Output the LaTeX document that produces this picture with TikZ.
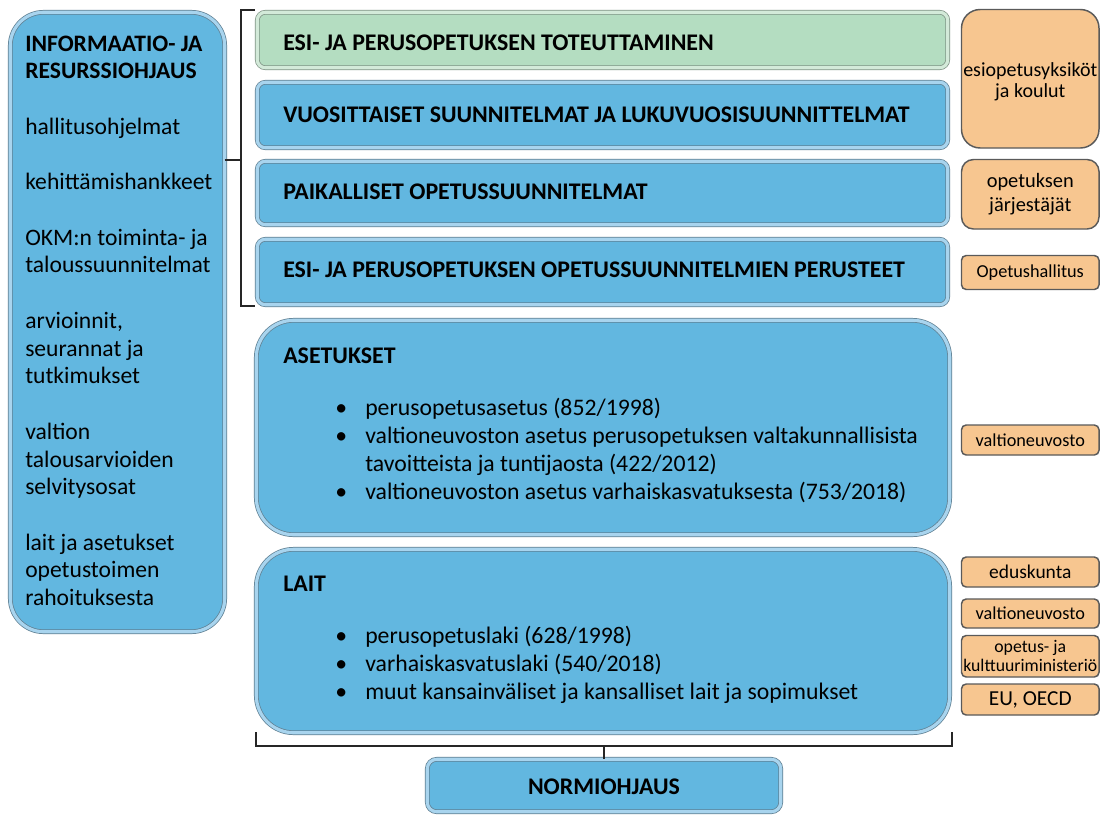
\documentclass[tikz,border=0pt]{standalone}
\usepackage{fontspec}
\setmainfont{Carlito}
\usetikzlibrary{fit}
\definecolor{fillblue}{HTML}{62B7E0}
\definecolor{bandblue}{HTML}{A8D4EE}
\definecolor{lineblue}{HTML}{5E7F92}
\definecolor{fillgreen}{HTML}{B4DDC1}
\definecolor{bandgreen}{HTML}{D3EAD9}
\definecolor{linegreen}{HTML}{7E9384}
\definecolor{fillorange}{HTML}{F7C690}
\definecolor{lineorange}{HTML}{5A5A5A}
\newcommand{\bul}{\makebox[36pt][c]{\textbullet}}
\begin{document}
\begin{tikzpicture}[x=0.75pt,y=-0.75pt,
  box/.style={inner sep=0pt, outer sep=0pt, line width=0.55pt, double distance=2.4pt},
  bluebox/.style={box, draw=lineblue, double=bandblue, fill=fillblue},
  greenbox/.style={box, draw=linegreen, double=bandgreen, fill=fillgreen},
  orgbox/.style={inner sep=0pt, outer sep=0pt, draw=lineorange, line width=1.1pt, fill=fillorange},
  smallorg/.style={orgbox, rounded corners=3.5pt},
  orgtext/.style={anchor=center, inner sep=0pt, align=center},
  head/.style={anchor=base west, inner sep=0pt, font=\bfseries\fontsize{17.9}{21}\selectfont},
  body/.style={anchor=base west, inner sep=0pt, font=\fontsize{17.7}{20.8}\selectfont},
  listtxt/.style={anchor=base west, inner sep=0pt, font=\fontsize{17.8}{21}\selectfont},
  bracket/.style={draw=black!85, line width=1pt},
]
\useasboundingbox (0,0) rectangle (1102,814);
\fill[white] (0,0) rectangle (1102,814);

% left box
\node[bluebox, rounded corners=25pt, fit={(10.3,12.3) (224.7,631.7)}] (info) {};
\node[body] (infotext) at (25,51) {\begin{tabular}[t]{@{}l@{}}\textbf{INFORMAATIO- JA}\\ \textbf{RESURSSIOHJAUS}\\[20.8pt] hallitusohjelmat\\[20.8pt] kehittämishankkeet\\[20.8pt] OKM:n toiminta- ja\\ taloussuunnitelmat\\[20.8pt] arvioinnit,\\ seurannat ja\\ tutkimukset\\[20.8pt] valtion\\ talousarvioiden\\ selvitysosat\\[20.8pt] lait ja asetukset\\ opetustoimen\\ rahoituksesta\end{tabular}};

% top boxes
\node[greenbox, rounded corners=6pt, fit={(257.3,12.3) (947.7,67.7)}] (impl) {};
\node[head] (impltext) at (283,50) {ESI- JA PERUSOPETUKSEN TOTEUTTAMINEN};
\node[bluebox, rounded corners=6pt, fit={(257.3,82.3) (947.7,147.7)}] (annual) {};
\node[head] (annualtext) at (283,122) {VUOSITTAISET SUUNNITELMAT JA LUKUVUOSISUUNNITTELMAT};
\node[bluebox, rounded corners=6pt, fit={(257.3,161.3) (947.7,224.7)}] (local) {};
\node[head] (localtext) at (283,199.5) {PAIKALLISET OPETUSSUUNNITELMAT};
\node[bluebox, rounded corners=6pt, fit={(257.3,239.3) (947.7,304.7)}] (core) {};
\node[head] (coretext) at (283,277.5) {ESI- JA PERUSOPETUKSEN OPETUSSUUNNITELMIEN PERUSTEET};

% asetukset
\node[bluebox, rounded corners=28pt, fit={(256.3,320.3) (949.7,534.7)}] (aset) {};
\node[head] (asettitle) at (283,363) {ASETUKSET};
\node[listtxt] (asetlist) at (317,415) {\begin{tabular}[t]{@{}l@{}l@{}}\bul & perusopetusasetus (852/1998)\\ \bul & valtioneuvoston asetus perusopetuksen valtakunnallisista\\ & tavoitteista ja tuntijaosta (422/2012)\\ \bul & valtioneuvoston asetus varhaiskasvatuksesta (753/2018)\end{tabular}};

% lait
\node[bluebox, rounded corners=28pt, fit={(256.3,549.3) (949.7,732.7)}] (lait) {};
\node[head] (laittitle) at (283,591) {LAIT};
\node[listtxt] (laitlist) at (317,643) {\begin{tabular}[t]{@{}l@{}l@{}}\bul & perusopetuslaki (628/1998)\\ \bul & varhaiskasvatuslaki (540/2018)\\ \bul & muut kansainväliset ja kansalliset lait ja sopimukset\end{tabular}};

% normiohjaus
\node[bluebox, rounded corners=7pt, fit={(427.3,759.3) (780.7,811.7)}] (norm) {};
\node[head, anchor=base] (normtext) at (604,794) {NORMIOHJAUS};

% right orange boxes
\node[orgbox, rounded corners=14pt, fit={(961.5,9.5) (1099,148)}] (schools) {};
\node[orgtext, font=\fontsize{15}{15.8}\selectfont] (schoolstext) at ([yshift=-2.5pt]schools.center) {esiopetusyksiköt\\ja koulut};
\node[orgbox, rounded corners=9pt, fit={(961.5,159.5) (1099,229)}] (organisers) {};
\node[orgtext, font=\fontsize{15.3}{18.5}\selectfont] (organiserstext) at (organisers.center) {opetuksen\\järjestäjät};
\node[smallorg, fit={(961.5,255.5) (1099,289.5)}] (oph) {};
\node[orgtext, font=\fontsize{13.7}{15}\selectfont] (ophtext) at (oph.center) {Opetushallitus};
\node[smallorg, fit={(961.5,425) (1099,455)}] (vn1) {};
\node[orgtext, font=\fontsize{13.7}{15}\selectfont] (vn1text) at (vn1.center) {valtioneuvosto};
\node[smallorg, fit={(961.5,557) (1099,587)}] (edus) {};
\node[orgtext, font=\fontsize{14.6}{16}\selectfont] (edustext) at (edus.center) {eduskunta};
\node[smallorg, fit={(961.5,599) (1099,628)}] (vn2) {};
\node[orgtext, font=\fontsize{13.7}{15}\selectfont] (vn2text) at (vn2.center) {valtioneuvosto};
\node[smallorg, fit={(961.5,635.5) (1099,677)}] (okm) {};
\node[orgtext, font=\fontsize{13.3}{14.5}\selectfont] (okmtext) at (okm.center) {opetus- ja\\kulttuuriministeriö};
\node[smallorg, fit={(961.5,684) (1099,715)}] (eu) {};
\node[orgtext, font=\fontsize{16}{17}\selectfont] (eutext) at (eu.center) {EU, OECD};

% brackets
\coordinate (brT) at (241,10);
\coordinate (brB) at (241,306);
\draw[bracket] (255,10) -- (brT) -- (brB) -- (255,306);
\draw[bracket] (info.east |- brT) ++(0,150) -- (241,160);
\coordinate (bbL) at (256,746);
\coordinate (bbR) at (952,746);
\draw[bracket] (256,732) -- (bbL) -- (bbR) -- (952,732);
\draw[bracket] (norm.north |- bbL) -- (norm.north);
\end{tikzpicture}
\end{document}
